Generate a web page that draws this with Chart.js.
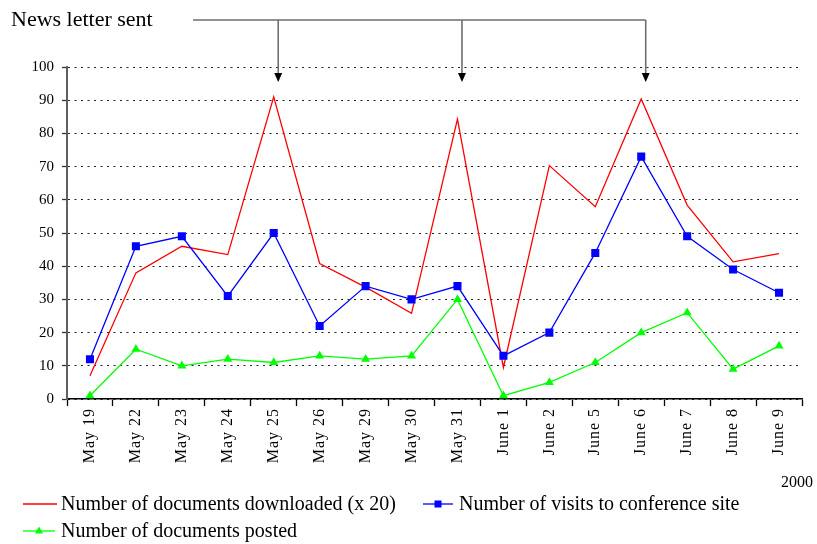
<!DOCTYPE html>
<html>
<head>
<meta charset="utf-8">
<script src="https://cdn.jsdelivr.net/npm/chart.js@4/dist/chart.umd.min.js"></script>
<style>
  html, body { margin: 0; padding: 0; background: #fff; }
  #wrap { width: 817px; height: 544px; position: relative; }
</style>
</head>
<body>
<div id="wrap"><canvas id="c" width="817" height="544"></canvas></div>
<script>
const categories = ["May 19","May 22","May 23","May 24","May 25","May 26","May 29","May 30","May 31","June 1","June 2","June 5","June 6","June 7","June 8","June 9"];
const downloadsX20 = [7, 38, 46, 43.5, 91, 40.8, 33.7, 25.8, 84.3, 9.5, 70.3, 57.9, 90.4, 58.4, 41.3, 43.8];
const visits = [12, 46, 49, 31, 50, 22, 34, 30, 34, 13, 20, 44, 73, 49, 39, 32];
const posted = [1, 15, 10, 12, 11, 13, 12, 13, 30, 1, 5, 11, 20, 26, 9, 16];
const newsletterDays = ["May 25", "May 31", "June 6"];
const seriesNames = ["Number of documents downloaded (x 20)", "Number of visits to conference site", "Number of documents posted"];
const yearLabel = "2000";
const annotationLabel = "News letter sent";

const SERIF = "'Liberation Serif', 'Times New Roman', serif";

const overlay = {
  id: 'overlay',
  beforeDraw(chart) {
    const xs = chart.scales.x;
    if (xs && !xs._lsWrapped) {
      const orig = xs.drawLabels.bind(xs);
      xs.drawLabels = function (ca) {
        const ctx = chart.ctx;
        ctx.save();
        ctx.letterSpacing = '1px';
        orig(ca);
        ctx.restore();
      };
      xs._lsWrapped = true;
    }
  },
  afterDraw(chart) {
    const ctx = chart.ctx;
    const xs = chart.scales.x;
    ctx.save();
    // Annotation
    ctx.fillStyle = '#000';
    ctx.font = '22px ' + SERIF;
    ctx.textBaseline = 'alphabetic';
    ctx.textAlign = 'left';
    ctx.fillText(annotationLabel, 11, 26);
    const xsArr = newsletterDays.map(d => xs.getPixelForValue(categories.indexOf(d)) + 4.5);
    ctx.strokeStyle = '#6e6e6e';
    ctx.lineWidth = 1.6;
    ctx.beginPath();
    ctx.moveTo(193, 20);
    ctx.lineTo(xsArr[xsArr.length - 1], 20);
    ctx.stroke();
    xsArr.forEach(x => {
      ctx.beginPath();
      ctx.moveTo(x, 20);
      ctx.lineTo(x, 74);
      ctx.stroke();
      ctx.fillStyle = '#000';
      ctx.beginPath();
      ctx.moveTo(x - 4, 73);
      ctx.lineTo(x + 4, 73);
      ctx.lineTo(x, 82);
      ctx.closePath();
      ctx.fill();
    });
    // Year label
    ctx.fillStyle = '#000';
    ctx.font = '16px ' + SERIF;
    ctx.textAlign = 'right';
    ctx.fillText(yearLabel, 813, 487);
    // Legend
    ctx.textAlign = 'left';
    ctx.textBaseline = 'middle';
    ctx.font = '20px ' + SERIF;
    const items = [
      { x0: 23, x1: 57, y: 504, color: '#ff0000', marker: null, tx: 61, text: seriesNames[0] },
      { x0: 423, x1: 453, y: 504, color: '#0000ff', marker: 'rect', tx: 459, text: seriesNames[1] },
      { x0: 23, x1: 55, y: 531, color: '#00ff00', marker: 'tri', tx: 61, text: seriesNames[2] }
    ];
    items.forEach(it => {
      ctx.strokeStyle = it.color;
      ctx.lineWidth = 1.3;
      ctx.beginPath();
      ctx.moveTo(it.x0, it.y);
      ctx.lineTo(it.x1, it.y);
      ctx.stroke();
      const cx = (it.x0 + it.x1) / 2;
      ctx.fillStyle = it.color;
      if (it.marker === 'rect') {
        ctx.fillRect(cx - 3.5, it.y - 3.5, 7, 7);
      } else if (it.marker === 'tri') {
        ctx.beginPath();
        ctx.moveTo(cx, it.y - 4.5);
        ctx.lineTo(cx + 4, it.y + 2.5);
        ctx.lineTo(cx - 4, it.y + 2.5);
        ctx.closePath();
        ctx.fill();
      }
      ctx.fillStyle = '#000';
      ctx.fillText(it.text, it.tx, it.y + 1);
    });
    ctx.restore();
  }
};

new Chart(document.getElementById('c'), {
  type: 'line',
  data: {
    labels: categories,
    datasets: [
      {
        label: seriesNames[0],
        data: downloadsX20,
        borderColor: '#ff0000',
        backgroundColor: '#ff0000',
        borderWidth: 1.3,
        pointRadius: 0,
        pointHoverRadius: 0,
        tension: 0,
        order: 3
      },
      {
        label: seriesNames[1],
        data: visits,
        borderColor: '#0000ff',
        backgroundColor: '#0000ff',
        borderWidth: 1.3,
        pointStyle: 'rect',
        pointRadius: 5.7,
        pointBorderWidth: 0,
        tension: 0,
        order: 2
      },
      {
        label: seriesNames[2],
        data: posted,
        borderColor: '#00ff00',
        backgroundColor: '#00ff00',
        borderWidth: 1.3,
        pointStyle: 'triangle',
        pointRadius: 5.2,
        pointBorderWidth: 0,
        tension: 0,
        order: 1
      }
    ]
  },
  options: {
    responsive: false,
    animation: false,
    devicePixelRatio: 1,
    layout: { padding: { top: 67, right: 15, left: 0, bottom: 0 } },
    plugins: {
      legend: { display: false },
      tooltip: { enabled: false }
    },
    scales: {
      x: {
        type: 'category',
        offset: true,
        afterFit(scale) { scale.height = 145; },
        grid: {
          offset: true,
          drawOnChartArea: false,
          drawTicks: true,
          tickLength: 7,
          tickColor: '#000',
          tickWidth: 1.3
        },
        border: { display: true, color: '#000', width: 1.6 },
        ticks: {
          autoSkip: false,
          minRotation: 90,
          maxRotation: 90,
          padding: 2,
          color: '#000',
          font: { family: SERIF, size: 16 }
        }
      },
      y: {
        min: 0,
        max: 100,
        afterFit(scale) { scale.width = 67; },
        grid: {
          color: '#222',
          lineWidth: 1,
          drawTicks: true,
          tickLength: 5,
          tickColor: '#333',
          tickWidth: 1.3,
          tickBorderDash: []
        },
        border: { display: true, color: '#606060', width: 2, dash: [2, 4.5] },
        ticks: {
          stepSize: 10,
          padding: 8,
          color: '#000',
          font: { family: SERIF, size: 15 }
        }
      }
    }
  },
  plugins: [overlay]
});
</script>
</body>
</html>
